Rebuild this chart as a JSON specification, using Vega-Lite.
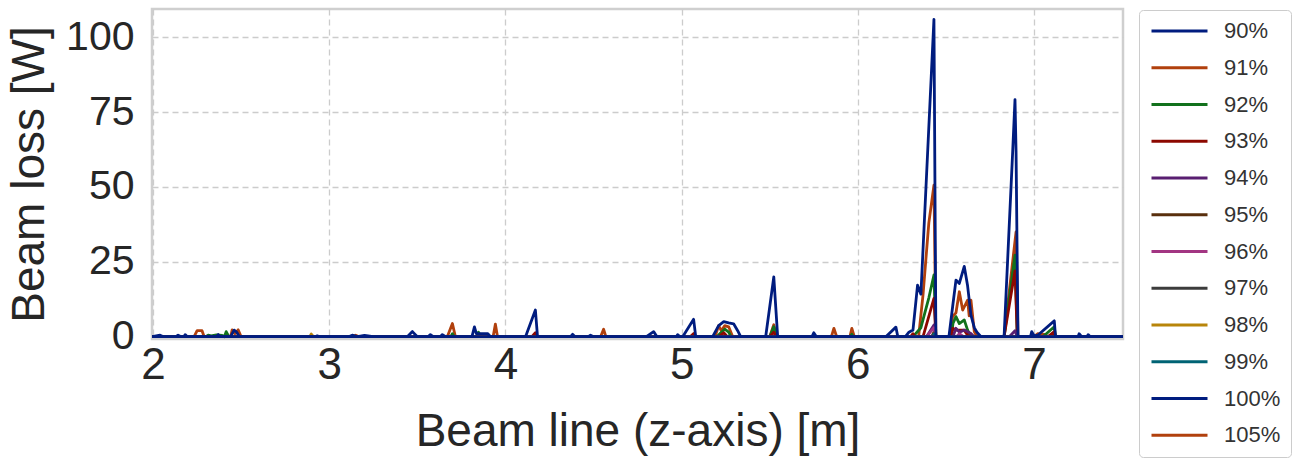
{
  "$schema": "https://vega.github.io/schema/vega-lite/v6.json",
  "autosize": {"type": "none"},
  "padding": {"left": 152, "top": 9, "right": 170, "bottom": 123},
  "width": 971,
  "height": 330,
  "background": "white",
  "config": {
    "font": "Liberation Sans",
    "view": {"stroke": "#cfcfcf", "strokeWidth": 2.5},
    "axis": {
      "grid": true, "gridDash": [6, 4], "gridColor": "#cccccc", "gridWidth": 1.3,
      "domain": false, "ticks": false,
      "labelFont": "Liberation Sans", "labelColor": "#262626",
      "titleFont": "Liberation Sans", "titleColor": "#262626", "titleFontWeight": "normal"
    },
    "legend": {
      "labelFont": "Liberation Sans"
    }
  },
  "data": {
    "values": [
      {"s": "91%", "z": 1.994, "loss": 0}, {"s": "91%", "z": 2.233, "loss": 0}, {"s": "91%", "z": 2.25, "loss": 2}, {"s": "91%", "z": 2.278, "loss": 2}, {"s": "91%", "z": 2.29, "loss": 0},
      {"s": "91%", "z": 2.44, "loss": 0}, {"s": "91%", "z": 2.449, "loss": 2.3}, {"s": "91%", "z": 2.465, "loss": 1}, {"s": "91%", "z": 2.483, "loss": 2.3}, {"s": "91%", "z": 2.5, "loss": 0},
      {"s": "91%", "z": 3.13, "loss": 0}, {"s": "91%", "z": 3.15, "loss": 0.5}, {"s": "91%", "z": 3.17, "loss": 0},
      {"s": "91%", "z": 3.67, "loss": 0}, {"s": "91%", "z": 3.699, "loss": 4.4}, {"s": "91%", "z": 3.716, "loss": 0},
      {"s": "91%", "z": 3.93, "loss": 0}, {"s": "91%", "z": 3.943, "loss": 4.2}, {"s": "91%", "z": 3.955, "loss": 0},
      {"s": "91%", "z": 4.54, "loss": 0}, {"s": "91%", "z": 4.557, "loss": 2.5}, {"s": "91%", "z": 4.57, "loss": 0},
      {"s": "91%", "z": 5.05, "loss": 0}, {"s": "91%", "z": 5.068, "loss": 1}, {"s": "91%", "z": 5.08, "loss": 0},
      {"s": "91%", "z": 5.19, "loss": 0}, {"s": "91%", "z": 5.21, "loss": 3.7}, {"s": "91%", "z": 5.225, "loss": 2}, {"s": "91%", "z": 5.245, "loss": 3.7}, {"s": "91%", "z": 5.267, "loss": 3.3}, {"s": "91%", "z": 5.29, "loss": 0},
      {"s": "91%", "z": 5.5, "loss": 0}, {"s": "91%", "z": 5.523, "loss": 4}, {"s": "91%", "z": 5.54, "loss": 0},
      {"s": "91%", "z": 5.85, "loss": 0}, {"s": "91%", "z": 5.864, "loss": 2.8}, {"s": "91%", "z": 5.88, "loss": 0},
      {"s": "91%", "z": 5.955, "loss": 0}, {"s": "91%", "z": 5.966, "loss": 2.8}, {"s": "91%", "z": 5.98, "loss": 0},
      {"s": "91%", "z": 6.345, "loss": 0}, {"s": "91%", "z": 6.37, "loss": 14}, {"s": "91%", "z": 6.403, "loss": 38}, {"s": "91%", "z": 6.432, "loss": 50.6}, {"s": "91%", "z": 6.443, "loss": 0},
      {"s": "91%", "z": 6.52, "loss": 0}, {"s": "91%", "z": 6.538, "loss": 6.7}, {"s": "91%", "z": 6.557, "loss": 8}, {"s": "91%", "z": 6.576, "loss": 15}, {"s": "91%", "z": 6.595, "loss": 8.9}, {"s": "91%", "z": 6.623, "loss": 12.2}, {"s": "91%", "z": 6.632, "loss": 7}, {"s": "91%", "z": 6.642, "loss": 12.2}, {"s": "91%", "z": 6.661, "loss": 1.7}, {"s": "91%", "z": 6.676, "loss": 0},
      {"s": "91%", "z": 6.83, "loss": 0}, {"s": "91%", "z": 6.898, "loss": 35}, {"s": "91%", "z": 6.909, "loss": 0},
      {"s": "91%", "z": 7.0, "loss": 0}, {"s": "91%", "z": 7.02, "loss": 1}, {"s": "91%", "z": 7.06, "loss": 0.8}, {"s": "91%", "z": 7.08, "loss": 0}, {"s": "91%", "z": 7.505, "loss": 0},

      {"s": "92%", "z": 1.994, "loss": 0}, {"s": "92%", "z": 2.3, "loss": 0}, {"s": "92%", "z": 2.313, "loss": 0.5}, {"s": "92%", "z": 2.33, "loss": 0.3}, {"s": "92%", "z": 2.36, "loss": 0.6}, {"s": "92%", "z": 2.392, "loss": 0.4}, {"s": "92%", "z": 2.405, "loss": 0}, {"s": "92%", "z": 2.415, "loss": 1.7}, {"s": "92%", "z": 2.43, "loss": 0},
      {"s": "92%", "z": 3.69, "loss": 0}, {"s": "92%", "z": 3.699, "loss": 1}, {"s": "92%", "z": 3.71, "loss": 0},
      {"s": "92%", "z": 3.835, "loss": 0}, {"s": "92%", "z": 3.847, "loss": 1.5}, {"s": "92%", "z": 3.86, "loss": 0},
      {"s": "92%", "z": 5.2, "loss": 0}, {"s": "92%", "z": 5.225, "loss": 1.5}, {"s": "92%", "z": 5.245, "loss": 2.5}, {"s": "92%", "z": 5.267, "loss": 1.5}, {"s": "92%", "z": 5.28, "loss": 0},
      {"s": "92%", "z": 5.5, "loss": 0}, {"s": "92%", "z": 5.523, "loss": 3.3}, {"s": "92%", "z": 5.54, "loss": 0},
      {"s": "92%", "z": 5.955, "loss": 0}, {"s": "92%", "z": 5.966, "loss": 0.8}, {"s": "92%", "z": 5.975, "loss": 0},
      {"s": "92%", "z": 6.313, "loss": 0}, {"s": "92%", "z": 6.358, "loss": 3}, {"s": "92%", "z": 6.403, "loss": 13}, {"s": "92%", "z": 6.432, "loss": 20.6}, {"s": "92%", "z": 6.443, "loss": 0},
      {"s": "92%", "z": 6.53, "loss": 0}, {"s": "92%", "z": 6.54, "loss": 4.4}, {"s": "92%", "z": 6.557, "loss": 6.7}, {"s": "92%", "z": 6.576, "loss": 4.4}, {"s": "92%", "z": 6.604, "loss": 5.6}, {"s": "92%", "z": 6.623, "loss": 2.2}, {"s": "92%", "z": 6.642, "loss": 0},
      {"s": "92%", "z": 6.83, "loss": 0}, {"s": "92%", "z": 6.892, "loss": 27.2}, {"s": "92%", "z": 6.905, "loss": 0},
      {"s": "92%", "z": 7.05, "loss": 0}, {"s": "92%", "z": 7.115, "loss": 3.3}, {"s": "92%", "z": 7.122, "loss": 0}, {"s": "92%", "z": 7.505, "loss": 0},

      {"s": "93%", "z": 1.994, "loss": 0}, {"s": "93%", "z": 4.15, "loss": 0}, {"s": "93%", "z": 4.17, "loss": 1.3}, {"s": "93%", "z": 4.182, "loss": 0},
      {"s": "93%", "z": 5.05, "loss": 0}, {"s": "93%", "z": 5.068, "loss": 1}, {"s": "93%", "z": 5.08, "loss": 0},
      {"s": "93%", "z": 5.21, "loss": 0}, {"s": "93%", "z": 5.239, "loss": 1.3}, {"s": "93%", "z": 5.26, "loss": 0},
      {"s": "93%", "z": 5.5, "loss": 0}, {"s": "93%", "z": 5.523, "loss": 1.5}, {"s": "93%", "z": 5.54, "loss": 0},
      {"s": "93%", "z": 6.3, "loss": 0}, {"s": "93%", "z": 6.313, "loss": 1}, {"s": "93%", "z": 6.325, "loss": 0},
      {"s": "93%", "z": 6.37, "loss": 0}, {"s": "93%", "z": 6.375, "loss": 1}, {"s": "93%", "z": 6.432, "loss": 12.8}, {"s": "93%", "z": 6.443, "loss": 0},
      {"s": "93%", "z": 6.53, "loss": 0}, {"s": "93%", "z": 6.538, "loss": 2.8}, {"s": "93%", "z": 6.557, "loss": 2.2}, {"s": "93%", "z": 6.576, "loss": 2.2}, {"s": "93%", "z": 6.604, "loss": 2.2}, {"s": "93%", "z": 6.623, "loss": 0.5}, {"s": "93%", "z": 6.64, "loss": 0},
      {"s": "93%", "z": 6.83, "loss": 0}, {"s": "93%", "z": 6.892, "loss": 22}, {"s": "93%", "z": 6.905, "loss": 0},
      {"s": "93%", "z": 7.08, "loss": 0}, {"s": "93%", "z": 7.115, "loss": 1.7}, {"s": "93%", "z": 7.122, "loss": 0}, {"s": "93%", "z": 7.505, "loss": 0},

      {"s": "94%", "z": 1.994, "loss": 0}, {"s": "94%", "z": 6.39, "loss": 0}, {"s": "94%", "z": 6.432, "loss": 3.9}, {"s": "94%", "z": 6.443, "loss": 0},
      {"s": "94%", "z": 6.54, "loss": 0}, {"s": "94%", "z": 6.557, "loss": 2.8}, {"s": "94%", "z": 6.576, "loss": 1.5}, {"s": "94%", "z": 6.604, "loss": 2.2}, {"s": "94%", "z": 6.642, "loss": 1.1}, {"s": "94%", "z": 6.66, "loss": 0},
      {"s": "94%", "z": 6.86, "loss": 0}, {"s": "94%", "z": 6.892, "loss": 2}, {"s": "94%", "z": 6.905, "loss": 0}, {"s": "94%", "z": 7.505, "loss": 0},

      {"s": "95%", "z": 1.994, "loss": 0}, {"s": "95%", "z": 6.42, "loss": 0}, {"s": "95%", "z": 6.432, "loss": 1.5}, {"s": "95%", "z": 6.443, "loss": 0}, {"s": "95%", "z": 7.505, "loss": 0},

      {"s": "96%", "z": 1.994, "loss": 0}, {"s": "96%", "z": 6.39, "loss": 0}, {"s": "96%", "z": 6.432, "loss": 3}, {"s": "96%", "z": 6.443, "loss": 0},
      {"s": "96%", "z": 6.56, "loss": 0}, {"s": "96%", "z": 6.576, "loss": 1}, {"s": "96%", "z": 6.6, "loss": 0}, {"s": "96%", "z": 7.505, "loss": 0},

      {"s": "97%", "z": 1.994, "loss": 0}, {"s": "97%", "z": 6.42, "loss": 0}, {"s": "97%", "z": 6.432, "loss": 1}, {"s": "97%", "z": 6.443, "loss": 0}, {"s": "97%", "z": 7.505, "loss": 0},

      {"s": "98%", "z": 1.994, "loss": 0}, {"s": "98%", "z": 2.89, "loss": 0}, {"s": "98%", "z": 2.898, "loss": 0.9}, {"s": "98%", "z": 2.91, "loss": 0}, {"s": "98%", "z": 7.505, "loss": 0},

      {"s": "99%", "z": 1.994, "loss": 0}, {"s": "99%", "z": 6.425, "loss": 0}, {"s": "99%", "z": 6.432, "loss": 0.8}, {"s": "99%", "z": 6.443, "loss": 0}, {"s": "99%", "z": 7.505, "loss": 0},

      {"s": "105%", "z": 1.994, "loss": 0}, {"s": "105%", "z": 7.505, "loss": 0},
      {"s": "100%", "z": 1.994, "loss": 0}, {"s": "100%", "z": 7.505, "loss": 0},

      {"s": "90%", "z": 1.994, "loss": 0}, {"s": "90%", "z": 2.04, "loss": 0.5}, {"s": "90%", "z": 2.06, "loss": 0}, {"s": "90%", "z": 2.13, "loss": 0}, {"s": "90%", "z": 2.142, "loss": 0.5}, {"s": "90%", "z": 2.16, "loss": 0}, {"s": "90%", "z": 2.175, "loss": 0}, {"s": "90%", "z": 2.182, "loss": 0.7}, {"s": "90%", "z": 2.195, "loss": 0},
      {"s": "90%", "z": 2.36, "loss": 0}, {"s": "90%", "z": 2.37, "loss": 0.7}, {"s": "90%", "z": 2.38, "loss": 0}, {"s": "90%", "z": 2.44, "loss": 0}, {"s": "90%", "z": 2.46, "loss": 2.2}, {"s": "90%", "z": 2.475, "loss": 1.5}, {"s": "90%", "z": 2.49, "loss": 0},
      {"s": "90%", "z": 2.92, "loss": 0}, {"s": "90%", "z": 2.932, "loss": 0.3}, {"s": "90%", "z": 2.945, "loss": 0},
      {"s": "90%", "z": 3.11, "loss": 0}, {"s": "90%", "z": 3.13, "loss": 0.5}, {"s": "90%", "z": 3.16, "loss": 0}, {"s": "90%", "z": 3.2, "loss": 0.4}, {"s": "90%", "z": 3.25, "loss": 0},
      {"s": "90%", "z": 3.443, "loss": 0}, {"s": "90%", "z": 3.472, "loss": 1.7}, {"s": "90%", "z": 3.5, "loss": 0},
      {"s": "90%", "z": 3.56, "loss": 0}, {"s": "90%", "z": 3.574, "loss": 0.7}, {"s": "90%", "z": 3.59, "loss": 0},
      {"s": "90%", "z": 3.63, "loss": 0}, {"s": "90%", "z": 3.642, "loss": 0.7}, {"s": "90%", "z": 3.66, "loss": 0},
      {"s": "90%", "z": 3.81, "loss": 0}, {"s": "90%", "z": 3.824, "loss": 3.3}, {"s": "90%", "z": 3.835, "loss": 1}, {"s": "90%", "z": 3.9, "loss": 1}, {"s": "90%", "z": 3.915, "loss": 0},
      {"s": "90%", "z": 4.114, "loss": 0}, {"s": "90%", "z": 4.17, "loss": 8.9}, {"s": "90%", "z": 4.182, "loss": 0},
      {"s": "90%", "z": 4.37, "loss": 0}, {"s": "90%", "z": 4.381, "loss": 0.8}, {"s": "90%", "z": 4.395, "loss": 0},
      {"s": "90%", "z": 4.47, "loss": 0}, {"s": "90%", "z": 4.483, "loss": 0.5}, {"s": "90%", "z": 4.5, "loss": 0},
      {"s": "90%", "z": 4.8, "loss": 0}, {"s": "90%", "z": 4.841, "loss": 1.7}, {"s": "90%", "z": 4.86, "loss": 0},
      {"s": "90%", "z": 4.97, "loss": 0}, {"s": "90%", "z": 4.977, "loss": 0.7}, {"s": "90%", "z": 4.99, "loss": 0},
      {"s": "90%", "z": 5.006, "loss": 0}, {"s": "90%", "z": 5.068, "loss": 5.8}, {"s": "90%", "z": 5.08, "loss": 0},
      {"s": "90%", "z": 5.176, "loss": 0}, {"s": "90%", "z": 5.21, "loss": 3.7}, {"s": "90%", "z": 5.239, "loss": 5}, {"s": "90%", "z": 5.267, "loss": 4.6}, {"s": "90%", "z": 5.295, "loss": 4.3}, {"s": "90%", "z": 5.318, "loss": 2}, {"s": "90%", "z": 5.335, "loss": 0},
      {"s": "90%", "z": 5.477, "loss": 0}, {"s": "90%", "z": 5.523, "loss": 20}, {"s": "90%", "z": 5.545, "loss": 0},
      {"s": "90%", "z": 5.74, "loss": 0}, {"s": "90%", "z": 5.75, "loss": 1.3}, {"s": "90%", "z": 5.765, "loss": 0},
      {"s": "90%", "z": 6.159, "loss": 0}, {"s": "90%", "z": 6.216, "loss": 3.2}, {"s": "90%", "z": 6.227, "loss": 0},
      {"s": "90%", "z": 6.27, "loss": 0}, {"s": "90%", "z": 6.29, "loss": 1.5}, {"s": "90%", "z": 6.305, "loss": 2}, {"s": "90%", "z": 6.313, "loss": 2.2}, {"s": "90%", "z": 6.339, "loss": 17.2}, {"s": "90%", "z": 6.358, "loss": 14.2}, {"s": "90%", "z": 6.432, "loss": 106}, {"s": "90%", "z": 6.443, "loss": 0},
      {"s": "90%", "z": 6.517, "loss": 0}, {"s": "90%", "z": 6.538, "loss": 10}, {"s": "90%", "z": 6.557, "loss": 18.9}, {"s": "90%", "z": 6.576, "loss": 17.8}, {"s": "90%", "z": 6.604, "loss": 23.5}, {"s": "90%", "z": 6.623, "loss": 17}, {"s": "90%", "z": 6.642, "loss": 7.2}, {"s": "90%", "z": 6.661, "loss": 3}, {"s": "90%", "z": 6.676, "loss": 1.5}, {"s": "90%", "z": 6.699, "loss": 0},
      {"s": "90%", "z": 6.83, "loss": 0}, {"s": "90%", "z": 6.879, "loss": 62}, {"s": "90%", "z": 6.892, "loss": 79.2}, {"s": "90%", "z": 6.898, "loss": 62}, {"s": "90%", "z": 6.909, "loss": 0},
      {"s": "90%", "z": 6.98, "loss": 0}, {"s": "90%", "z": 6.987, "loss": 1.7}, {"s": "90%", "z": 7.0, "loss": 0.3}, {"s": "90%", "z": 7.021, "loss": 0.5}, {"s": "90%", "z": 7.115, "loss": 5.3}, {"s": "90%", "z": 7.122, "loss": 0},
      {"s": "90%", "z": 7.25, "loss": 0}, {"s": "90%", "z": 7.256, "loss": 1}, {"s": "90%", "z": 7.27, "loss": 0}, {"s": "90%", "z": 7.3, "loss": 0}, {"s": "90%", "z": 7.307, "loss": 0.7}, {"s": "90%", "z": 7.32, "loss": 0}, {"s": "90%", "z": 7.505, "loss": 0}
    ]
  },
  "mark": {"type": "line", "strokeWidth": 2.8, "clip": true, "strokeJoin": "round"},
  "encoding": {
    "x": {
      "field": "z", "type": "quantitative",
      "scale": {"domain": [1.994, 7.505], "nice": false, "zero": false},
      "axis": {"values": [2, 3, 4, 5, 6, 7], "title": "Beam line (z-axis) [m]", "labelFontSize": 44, "labelPadding": 4, "titleFontSize": 46, "titlePadding": 22, "labelFlush": false}
    },
    "y": {
      "field": "loss", "type": "quantitative",
      "scale": {"domain": [-0.77, 109.45], "nice": false, "zero": false},
      "axis": {"values": [0, 25, 50, 75, 100], "title": "Beam loss [W]", "labelFontSize": 41, "labelPadding": 18, "titleFontSize": 46, "titlePadding": 12}
    },
    "color": {
      "field": "s", "type": "nominal",
      "scale": {
        "domain": ["90%", "91%", "92%", "93%", "94%", "95%", "96%", "97%", "98%", "99%", "100%", "105%"],
        "range": ["#001c7f", "#b1400d", "#12711c", "#8c0800", "#591e71", "#592f0d", "#a23582", "#3c3c3c", "#b8850a", "#006374", "#001c7f", "#b1400d"]
      },
      "legend": {
        "title": null, "orient": "none", "legendX": 987, "legendY": 1,
        "symbolType": "M-4,0H4", "symbolSize": 196, "symbolStrokeWidth": 3, "symbolOffset": 19.5,
        "labelFontSize": 22, "labelColor": "#333333", "labelOffset": 33.5,
        "rowPadding": 14.75, "padding": 10,
        "strokeColor": "#cccccc", "fillColor": "white", "cornerRadius": 4
      }
    }
  }
}
